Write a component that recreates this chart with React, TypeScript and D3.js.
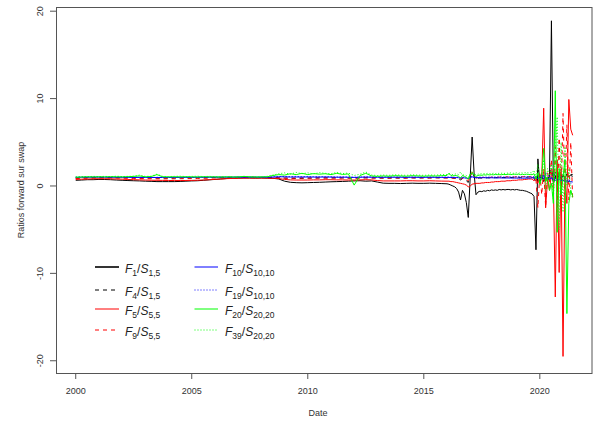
import React from "react";
import * as d3 from "d3";

// ---- dates: quarterly 2000–2015, monthly 2016-01 .. 2021-06
const quarterDates = [
  "2000-01","2000-04","2000-07","2000-10","2001-01","2001-04","2001-07","2001-10",
  "2002-01","2002-04","2002-07","2002-10","2003-01","2003-04","2003-07","2003-10",
  "2004-01","2004-04","2004-07","2004-10","2005-01","2005-04","2005-07","2005-10",
  "2006-01","2006-04","2006-07","2006-10","2007-01","2007-04","2007-07","2007-10",
  "2008-01","2008-04","2008-07","2008-10","2009-01","2009-04","2009-07","2009-10",
  "2010-01","2010-04","2010-07","2010-10","2011-01","2011-04","2011-07","2011-10",
  "2012-01","2012-04","2012-07","2012-10","2013-01","2013-04","2013-07","2013-10",
  "2014-01","2014-04","2014-07","2014-10","2015-01","2015-04","2015-07","2015-10",
];
const monthDates = [
  "2016-01","2016-02","2016-03","2016-04","2016-05","2016-06","2016-07","2016-08","2016-09","2016-10","2016-11","2016-12",
  "2017-01","2017-02","2017-03","2017-04","2017-05","2017-06","2017-07","2017-08","2017-09","2017-10","2017-11","2017-12",
  "2018-01","2018-02","2018-03","2018-04","2018-05","2018-06","2018-07","2018-08","2018-09","2018-10","2018-11","2018-12",
  "2019-01","2019-02","2019-03","2019-04","2019-05","2019-06","2019-07","2019-08","2019-09","2019-10","2019-11","2019-12",
  "2020-01","2020-02","2020-03","2020-04","2020-05","2020-06","2020-07","2020-08","2020-09","2020-10","2020-11","2020-12",
  "2021-01","2021-02","2021-03","2021-04","2021-05","2021-06",
];

// ---- F1 / S1,5 (black solid)
const f1Quarterly = [
  0.65,0.68,0.72,0.72, 0.75,0.74,0.72,0.68, 0.65,0.62,0.6,0.58, 0.55,0.53,0.5,0.5,
  0.5,0.5,0.52,0.55, 0.58,0.6,0.65,0.7, 0.75,0.8,0.85,0.88, 0.9,0.92,0.92,0.9,
  0.92,0.9,0.88,0.8, 0.55,0.42,0.38,0.36, 0.38,0.4,0.42,0.45, 0.48,0.5,0.52,0.55,
  0.58,0.6,0.55,0.58, 0.45,0.32,0.3,0.3, 0.28,0.3,0.32,0.3, 0.3,0.32,0.3,0.28,
];
const f1Monthly = [
  0.25,0.2,0.1,0.0,-0.1,-0.3,-0.7,-1.6,-0.5,-0.9,-1.9,-3.6,
  1.0,5.6,1.5,-1.0,-0.7,-0.6,-0.65,-0.55,-0.6,-0.5,-0.55,-0.45,
  -0.5,-0.45,-0.5,-0.4,-0.45,-0.4,-0.45,-0.4,-0.4,-0.45,-0.4,-0.45,
  -0.4,-0.45,-0.5,-0.5,-0.55,-0.6,-0.7,-0.8,-0.9,-1.2,-7.3,3.1,
  0.3,1.2,0.5,1.0,0.6,1.0,18.9,0.2,1.2,0.4,1.5,0.8,
  1.2,0.9,1.3,1.0,1.3,1.3,
];

// ---- F4 / S1,5 (black dashed)
const f4Quarterly = [
  0.9,0.92,0.95,0.95, 0.97,0.97,0.96,0.95, 0.95,0.94,0.93,0.92, 0.92,0.92,0.9,0.9,
  0.9,0.9,0.92,0.92, 0.93,0.94,0.95,0.96, 0.97,0.98,0.98,0.99, 1.0,1.0,1.0,0.98,
  0.98,0.97,0.96,0.95, 0.9,0.88,0.87,0.88, 0.9,0.9,0.92,0.93, 0.92,0.93,0.92,0.9,
  0.9,0.92,0.93,0.92, 0.92,0.9,0.9,0.92, 0.9,0.92,0.93,0.92, 0.93,0.92,0.94,0.93,
];
const f4Monthly = [
  0.93,0.92,0.94,0.9,0.88,0.85,0.8,0.7,0.85,0.75,0.6,0.4,
  1.2,1.6,1.1,0.8,0.9,0.92,0.9,0.93,0.92,0.94,0.93,0.95,
  0.94,0.95,0.96,0.95,0.97,0.96,0.97,0.98,0.97,0.98,0.97,0.99,
  0.98,1.0,0.98,1.0,1.02,1.0,1.03,1.05,1.1,0.9,0.4,1.8,
  0.6,1.3,0.9,1.4,0.8,1.2,2.0,0.5,1.6,0.2,1.5,0.7,
  1.3,0.9,1.4,1.0,1.2,1.1,
];

// ---- F5 / S5,5 (red solid)
const f5Quarterly = [
  0.75,0.78,0.8,0.82, 0.83,0.83,0.82,0.8, 0.78,0.75,0.72,0.7, 0.68,0.66,0.65,0.64,
  0.63,0.62,0.62,0.63, 0.64,0.66,0.68,0.72, 0.76,0.8,0.84,0.86, 0.88,0.9,0.9,0.9,
  0.9,0.9,0.88,0.85, 0.75,0.7,0.68,0.68, 0.68,0.7,0.7,0.72, 0.72,0.7,0.7,0.68,
  0.68,0.7,0.72,0.7, 0.62,0.58,0.58,0.58, 0.58,0.6,0.6,0.58, 0.58,0.6,0.58,0.56,
];
const f5Monthly = [
  0.55,0.55,0.5,0.5,0.45,0.4,0.35,0.3,0.25,0.2,0.1,-0.1,
  0.0,0.2,0.25,0.3,0.3,0.3,0.35,0.35,0.4,0.4,0.4,0.45,
  0.45,0.5,0.5,0.5,0.55,0.55,0.55,0.6,0.6,0.6,0.65,0.65,
  0.65,0.7,0.7,0.7,0.75,0.75,0.8,0.8,0.8,0.6,0.9,0.3,
  1.2,1.0,8.9,-2.5,0.8,-0.5,1.5,0.5,-12.7,3.0,-9.9,2.0,
  -19.5,1.0,-2.0,9.9,6.5,5.8,
];

// ---- F9 / S5,5 (red dashed)
const f9Quarterly = [
  0.85,0.88,0.9,0.92, 0.93,0.94,0.93,0.92, 0.9,0.88,0.86,0.85, 0.84,0.83,0.82,0.82,
  0.82,0.82,0.83,0.84, 0.85,0.86,0.88,0.9, 0.92,0.94,0.95,0.96, 0.97,0.98,0.98,0.97,
  0.97,0.96,0.95,0.92, 0.9,0.88,0.9,0.92, 0.9,0.92,0.93,0.9, 0.92,0.9,0.93,0.92,
  0.9,0.93,0.95,0.92, 0.9,0.92,0.9,0.93, 0.92,0.9,0.93,0.92, 0.93,0.92,0.95,0.93,
];
const f9Monthly = [
  0.92,0.9,0.93,0.9,0.88,0.9,0.85,0.8,0.9,0.85,0.75,0.6,
  1.0,1.6,1.1,0.9,0.95,0.97,0.95,0.98,0.96,1.0,0.98,1.0,
  0.99,1.02,1.0,1.01,1.03,1.0,1.02,1.04,1.02,1.03,1.05,1.02,
  1.04,1.06,1.03,1.05,1.07,1.04,1.06,1.05,1.0,0.9,0.8,-2.5,
  1.5,-1.0,2.0,-2.4,1.5,0.5,3.0,-1.0,4.5,-3.0,5.5,-1.5,
  8.3,-1.0,7.0,-1.6,5.0,-1.6,
];

// ---- F10 / S10,10 (blue solid)
const f10Quarterly = [
  0.98,1.0,1.0,1.01, 1.01,1.0,1.0,1.0, 0.99,0.99,0.98,0.98, 0.98,0.97,0.97,0.97,
  0.97,0.97,0.98,0.98, 0.98,0.99,0.99,1.0, 1.0,1.0,1.0,1.0, 1.0,1.01,1.01,1.0,
  1.0,1.0,1.02,1.05, 1.05,1.02,1.03,1.02, 1.03,1.02,1.02,1.03, 1.02,1.0,1.01,1.0,
  0.98,1.0,1.02,1.0, 1.0,0.99,1.0,1.0, 1.0,0.99,1.0,0.99, 0.99,1.0,0.99,0.98,
];
const f10Monthly = [
  0.98,0.98,0.97,0.97,0.96,0.96,0.95,0.9,0.95,0.93,0.9,0.85,
  0.95,1.05,0.97,0.95,0.95,0.95,0.94,0.95,0.94,0.94,0.93,0.94,
  0.93,0.93,0.92,0.93,0.92,0.92,0.91,0.92,0.91,0.91,0.9,0.91,
  0.9,0.9,0.9,0.89,0.9,0.89,0.9,0.9,0.95,0.9,1.1,0.8,
  1.0,0.9,1.2,0.7,0.9,0.8,1.0,0.6,0.9,0.7,0.8,0.6,
  0.7,0.5,0.6,0.5,0.5,0.45,
];

// ---- F19 / S10,10 (blue dotted)
const f19Quarterly = [
  1.0,1.02,1.03,1.03, 1.04,1.03,1.03,1.02, 1.02,1.01,1.0,1.0, 1.0,0.99,0.99,0.99,
  0.99,0.99,1.0,1.0, 1.0,1.01,1.01,1.02, 1.02,1.02,1.03,1.03, 1.03,1.03,1.03,1.02,
  1.02,1.03,1.05,1.08, 1.1,1.08,1.1,1.07, 1.08,1.06,1.07,1.06, 1.05,1.04,1.05,1.03,
  1.0,1.03,1.06,1.04, 1.04,1.03,1.04,1.03, 1.03,1.02,1.03,1.02, 1.02,1.03,1.02,1.03,
];
const f19Monthly = [
  1.03,1.02,1.03,1.02,1.0,1.0,0.98,0.95,1.0,0.97,0.92,0.88,
  1.0,1.15,1.02,1.0,1.0,1.02,1.01,1.03,1.02,1.03,1.02,1.04,
  1.03,1.04,1.03,1.05,1.04,1.05,1.04,1.06,1.05,1.06,1.05,1.07,
  1.06,1.07,1.06,1.08,1.07,1.08,1.07,1.08,1.0,1.1,0.8,1.3,
  0.9,1.5,0.8,1.6,1.0,1.3,0.7,1.4,0.6,1.2,0.9,1.1,
  0.5,1.0,0.4,0.8,0.3,0.4,
];

// ---- F20 / S20,20 (green solid)
const f20Quarterly = [
  1.0,1.02,1.05,1.03, 1.05,1.04,1.06,1.05, 1.04,1.06,1.1,1.15, 1.05,1.08,1.3,1.05,
  1.04,1.05,1.04,1.05, 1.04,1.03,1.05,1.04, 1.03,1.02,1.04,1.03, 1.02,1.1,1.04,1.02,
  1.03,1.05,1.2,1.3, 1.25,1.4,1.3,1.45, 1.3,1.42,1.35,1.4, 1.3,1.45,1.32,1.38,
  0.1,1.2,1.45,1.15, 1.1,1.15,1.12,1.18, 1.15,1.12,1.18,1.15, 1.12,1.16,1.14,1.18,
];
const f20Monthly = [
  1.2,1.45,1.2,1.15,1.2,1.18,1.1,0.9,1.2,1.1,1.0,0.8,
  1.3,1.5,1.2,1.1,1.2,1.25,1.22,1.28,1.25,1.3,1.27,1.3,
  1.28,1.32,1.3,1.3,1.28,1.33,1.3,1.32,1.35,1.3,1.33,1.35,
  1.32,1.36,1.3,1.34,1.3,1.35,1.32,1.3,1.3,1.4,0.8,1.5,
  0.2,1.0,4.3,0.5,1.0,-0.5,0.3,-2.0,10.9,-5.3,2.0,-1.0,
  1.0,3.0,-14.6,-2.0,-0.5,-1.2,
];

// ---- F39 / S20,20 (green dotted)
const f39Quarterly = [
  1.05,1.08,1.06,1.1, 1.08,1.1,1.07,1.12, 1.08,1.1,1.12,1.25, 1.1,1.12,1.35,1.1,
  1.08,1.1,1.12,1.08, 1.1,1.12,1.08,1.1, 1.08,1.06,1.08,1.05, 1.05,1.08,1.06,1.08,
  1.06,1.1,1.25,1.4, 1.5,1.35,1.55,1.4, 1.5,1.38,1.52,1.45, 1.4,1.55,1.42,1.48,
  1.2,1.35,1.6,1.25, 1.2,1.25,1.22,1.28, 1.25,1.22,1.28,1.25, 1.22,1.26,1.24,1.3,
];
const f39Monthly = [
  1.3,1.4,1.35,1.3,1.35,1.4,1.3,1.6,1.2,1.3,1.2,1.0,
  1.4,1.7,1.3,1.3,1.35,1.4,1.38,1.42,1.4,1.45,1.4,1.42,
  1.45,1.4,1.48,1.42,1.45,1.5,1.42,1.48,1.45,1.5,1.44,1.48,
  1.5,1.45,1.52,1.48,1.5,1.55,1.5,1.52,1.5,1.8,1.0,2.5,
  0.5,1.5,3.0,-0.5,2.0,1.0,2.5,-1.5,4.0,7.9,-5.0,5.0,
  -3.0,4.5,0.0,2.0,-0.5,-1.5,
];

const xTicks = [2000, 2005, 2010, 2015, 2020];
const yTicks = [-20, -10, 0, 10, 20];

const dates = [...quarterDates, ...monthDates];
const toYear = (s: string) => {
  const [yy, mm] = s.split("-").map(Number);
  return yy + (mm - 1) / 12;
};

const series = [
  { f: "1", s: "1,5", values: [...f1Quarterly, ...f1Monthly], color: "#000000", dash: "" },
  { f: "4", s: "1,5", values: [...f4Quarterly, ...f4Monthly], color: "#000000", dash: "4,4" },
  { f: "5", s: "5,5", values: [...f5Quarterly, ...f5Monthly], color: "#ff0000", dash: "" },
  { f: "9", s: "5,5", values: [...f9Quarterly, ...f9Monthly], color: "#ff0000", dash: "4,4" },
  { f: "10", s: "10,10", values: [...f10Quarterly, ...f10Monthly], color: "#0000ff", dash: "" },
  { f: "19", s: "10,10", values: [...f19Quarterly, ...f19Monthly], color: "#0000ff", dash: "1,2" },
  { f: "20", s: "20,20", values: [...f20Quarterly, ...f20Monthly], color: "#00ff00", dash: "" },
  { f: "39", s: "20,20", values: [...f39Quarterly, ...f39Monthly], color: "#00ff00", dash: "1,2" },
];

const W = 595;
const H = 421;
const L = 56, R = 592.5, T = 7, B = 373;
const FONT = "'Liberation Sans', Arial, Helvetica, sans-serif";

export default function App() {
  const x = d3.scaleLinear().domain([1999.15, 2022.27]).range([L, R]);
  const y = d3.scaleLinear().domain([-21.4, 20.48]).range([B, T]);

  const line = d3
    .line<[number, number]>()
    .x((d) => x(d[0]))
    .y((d) => y(d[1]));

  const legendRows = [267, 290, 309, 330];
  const legendCols = [
    { x1: 95, x2: 119, tx: 125 },
    { x1: 194.5, x2: 218, tx: 225 },
  ];

  return (
    <svg
      width={W}
      height={H}
      style={{ position: "absolute", left: 0, top: 0, background: "#fff" }}
      fontFamily={FONT}
    >
      <defs>
        <clipPath id="plotclip">
          <rect x={L} y={T} width={R - L} height={B - T} />
        </clipPath>
      </defs>
      <rect x={0} y={0} width={W} height={H} fill="#fff" />

      <g clipPath="url(#plotclip)">
        {series.map((s, i) => {
          const pts: [number, number][] = dates
            .map((d, j) => [toYear(d), s.values[j]] as [number, number])
            .filter((p) => p[1] !== undefined);
          return (
            <path
              key={i}
              d={line(pts) || ""}
              fill="none"
              stroke={s.color}
              strokeWidth={1}
              strokeDasharray={s.dash || undefined}
            />
          );
        })}
      </g>

      {/* box */}
      <rect x={L + 0.5} y={T + 0.5} width={R - L - 1} height={B - T} fill="none" stroke="#555" strokeWidth={1} />

      {/* x axis */}
      {xTicks.map((t) => (
        <g key={t}>
          <line x1={x(t)} x2={x(t)} y1={B} y2={B + 6} stroke="#555" />
          <text x={x(t)} y={393.5} fontSize={9} textAnchor="middle" fill="#333">
            {t}
          </text>
        </g>
      ))}
      {/* y axis */}
      {yTicks.map((t) => (
        <g key={t}>
          <line x1={L - 6} x2={L} y1={y(t)} y2={y(t)} stroke="#555" />
          <text
            x={43.3}
            y={y(t)}
            fontSize={9}
            textAnchor="middle"
            fill="#333"
            transform={`rotate(-90, 43.3, ${y(t)})`}
          >
            {String(t)}
          </text>
        </g>
      ))}

      <text x={318} y={415.5} fontSize={9} textAnchor="middle" fill="#333">
        Date
      </text>
      <text
        x={24}
        y={190}
        fontSize={9}
        textAnchor="middle"
        fill="#333"
        transform="rotate(-90, 24, 190)"
      >
        Ratios forward sur swap
      </text>

      {/* legend */}
      {series.map((s, i) => {
        const col = legendCols[Math.floor(i / 4)];
        const ry = legendRows[i % 4];
        return (
          <g key={"lg" + i}>
            <line
              x1={col.x1}
              x2={col.x2}
              y1={ry}
              y2={ry}
              stroke={s.color}
              strokeWidth={i === 0 ? 1.6 : 1}
              strokeDasharray={s.dash || undefined}
            />
            <text x={col.tx} y={ry + 5.5} fontSize={12} fill="#222">
              <tspan fontStyle="italic">F</tspan>
              <tspan fontSize={8.5} dy={3}>{s.f}</tspan>
              <tspan dy={-3}>/</tspan>
              <tspan fontStyle="italic">S</tspan>
              <tspan fontSize={8.5} dy={3}>{s.s}</tspan>
            </text>
          </g>
        );
      })}
    </svg>
  );
}
